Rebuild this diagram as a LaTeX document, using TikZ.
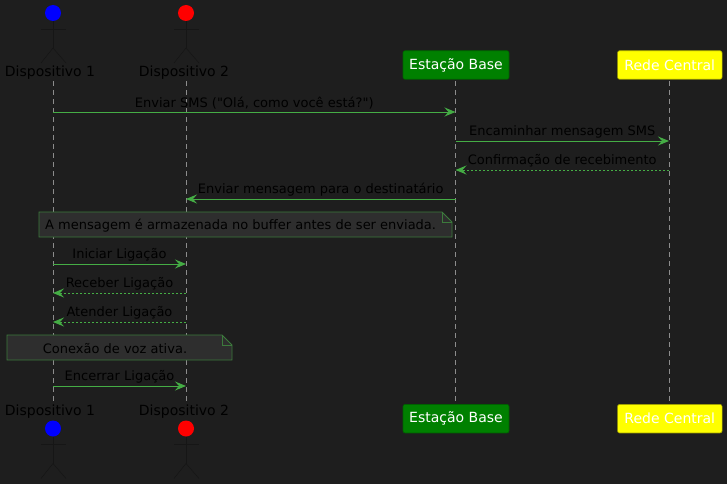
\documentclass[tikz,border=0pt]{standalone}
\usepackage{fontspec}
\setmainfont{DejaVu Sans}[Ligatures=TeXOff]
\usetikzlibrary{arrows.meta,calc}
\definecolor{bg}{HTML}{1E1E1E}
\definecolor{arrowc}{HTML}{45AD45}
\definecolor{lifec}{HTML}{8C8C8C}
\definecolor{stickc}{HTML}{161616}
\definecolor{notefill}{HTML}{2E2E2E}
\definecolor{notedraw}{HTML}{3C7A3C}
\definecolor{basefill}{HTML}{008000}
\definecolor{basedraw}{HTML}{006000}
\definecolor{redefill}{HTML}{FFFF00}
\definecolor{redendraw}{HTML}{A0A000}
\tikzset{
  head/.style={circle,inner sep=0pt,minimum size=16pt},
  stick/.style={draw=stickc,line width=0.6pt},
  actlabel/.style={inner sep=0pt,text=black,font=\fontsize{14}{16}\selectfont},
  partbox/.style={rectangle,rounded corners=2pt,minimum width=106pt,minimum height=28.5pt,inner sep=0pt,text=white,font=\fontsize{14}{16}\selectfont,line width=0.6pt},
  lifeline/.style={draw=lifec,line width=0.6pt,dash pattern=on 5pt off 4pt},
  msg/.style={draw=arrowc,line width=1pt,-{Stealth[length=11pt,width=9pt,inset=4pt]}},
  reply/.style={msg,dash pattern=on 2pt off 2pt},
  msglabel/.style={inner sep=0pt,text=black,font=\fontsize{13}{15}\selectfont,midway,yshift=9pt},
  notebox/.style={inner sep=0pt,text=black,font=\fontsize{13}{15}\selectfont},
  noteline/.style={draw=notedraw,fill=notefill,line width=0.8pt},
}
\newcommand{\stickman}[1]{%
  \draw[stick] ($(#1)+(0,8)$) -- ($(#1)+(0,35)$);
  \draw[stick] ($(#1)+(-12,16)$) -- ($(#1)+(13,16)$);
  \draw[stick] ($(#1)+(-12,50)$) -- ($(#1)+(0,35)$) -- ($(#1)+(13,50)$);
}
\begin{document}
\begin{tikzpicture}[x=1pt,y=-1pt]
\fill[bg] (0,0) rectangle (727,484);
\useasboundingbox (0,0) rectangle (727,484);

% top actors
\node[head,fill=blue] (h1t) at (53,13) {};
\node[head,fill=red] (h2t) at (186,13) {};
\stickman{h1t}
\stickman{h2t}
\node[actlabel] (l1t) at (50,73) {Dispositivo 1};
\node[actlabel] (l2t) at (184,73) {Dispositivo 2};
\node[partbox,fill=basefill,draw=basedraw] (pbt) at (456,65) {Estação Base};
\node[partbox,fill=redefill,draw=redendraw,minimum width=104.5pt] (prt) at (669.8,65) {Rede Central};

% bottom actors
\node[actlabel] (l1b) at (50,412) {Dispositivo 1};
\node[actlabel] (l2b) at (184,412) {Dispositivo 2};
\node[head,fill=blue] (h1b) at (53,428.5) {};
\node[head,fill=red] (h2b) at (186,428.5) {};
\stickman{h1b}
\stickman{h2b}
\node[partbox,fill=basefill,draw=basedraw] (pbb) at (456,418.7) {Estação Base};
\node[partbox,fill=redefill,draw=redendraw,minimum width=104.5pt] (prb) at (669.8,418.7) {Rede Central};

% lifelines
\coordinate (d1t) at (53,81);  \coordinate (d1b) at (53,401);
\coordinate (d2t) at (186,81); \coordinate (d2b) at (186,401);
\coordinate (ebt) at (455.5,81); \coordinate (ebb) at (455.5,404);
\coordinate (rct) at (669,81); \coordinate (rcb) at (669,404);
\draw[lifeline] (d1t) -- (d1b);
\draw[lifeline] (d2t) -- (d2b);
\draw[lifeline] (ebt) -- (ebb);
\draw[lifeline] (rct) -- (rcb);

% messages
\coordinate (m1a) at (53,112);  \coordinate (m1b) at (455.5,112);
\draw[msg] (m1a) -- (m1b) node[msglabel] (t1) {Enviar SMS ("Olá, como você está?")};
\coordinate (m2a) at (455.5,141);  \coordinate (m2b) at (669,141);
\draw[msg] (m2a) -- (m2b) node[msglabel] (t2) {Encaminhar mensagem SMS};
\coordinate (m3a) at (669,170);  \coordinate (m3b) at (455.5,170);
\draw[reply] (m3a) -- (m3b) node[msglabel] (t3) {Confirmação de recebimento};
\coordinate (m4a) at (455.5,199);  \coordinate (m4b) at (186,199);
\draw[msg] (m4a) -- (m4b) node[msglabel] (t4) {Enviar mensagem para o destinatário};

% note 1
\draw[noteline] (39,212) -- (442,212) -- (452,222) -- (452,237) -- (39,237) -- cycle;
\draw[noteline,fill=none] (442,212) -- (442,222) -- (452,222);
\node[notebox,anchor=west] (n1) at (45,226) {A mensagem é armazenada no buffer antes de ser enviada.};

\coordinate (m6a) at (53,264);  \coordinate (m6b) at (186,264);
\draw[msg] (m6a) -- (m6b) node[msglabel] (t6) {Iniciar Ligação};
\coordinate (m7a) at (186,293);  \coordinate (m7b) at (53,293);
\draw[reply] (m7a) -- (m7b) node[msglabel] (t7) {Receber Ligação};
\coordinate (m8a) at (186,322);  \coordinate (m8b) at (53,322);
\draw[reply] (m8a) -- (m8b) node[msglabel] (t8) {Atender Ligação};

% note 2
\draw[noteline] (7,335) -- (222,335) -- (232,345) -- (232,360) -- (7,360) -- cycle;
\draw[noteline,fill=none] (222,335) -- (222,345) -- (232,345);
\node[notebox] (n2) at (115,348.5) {Conexão de voz ativa.};

\coordinate (m10a) at (53,386);  \coordinate (m10b) at (186,386);
\draw[msg] (m10a) -- (m10b) node[msglabel] (t10) {Encerrar Ligação};
\end{tikzpicture}
\end{document}
